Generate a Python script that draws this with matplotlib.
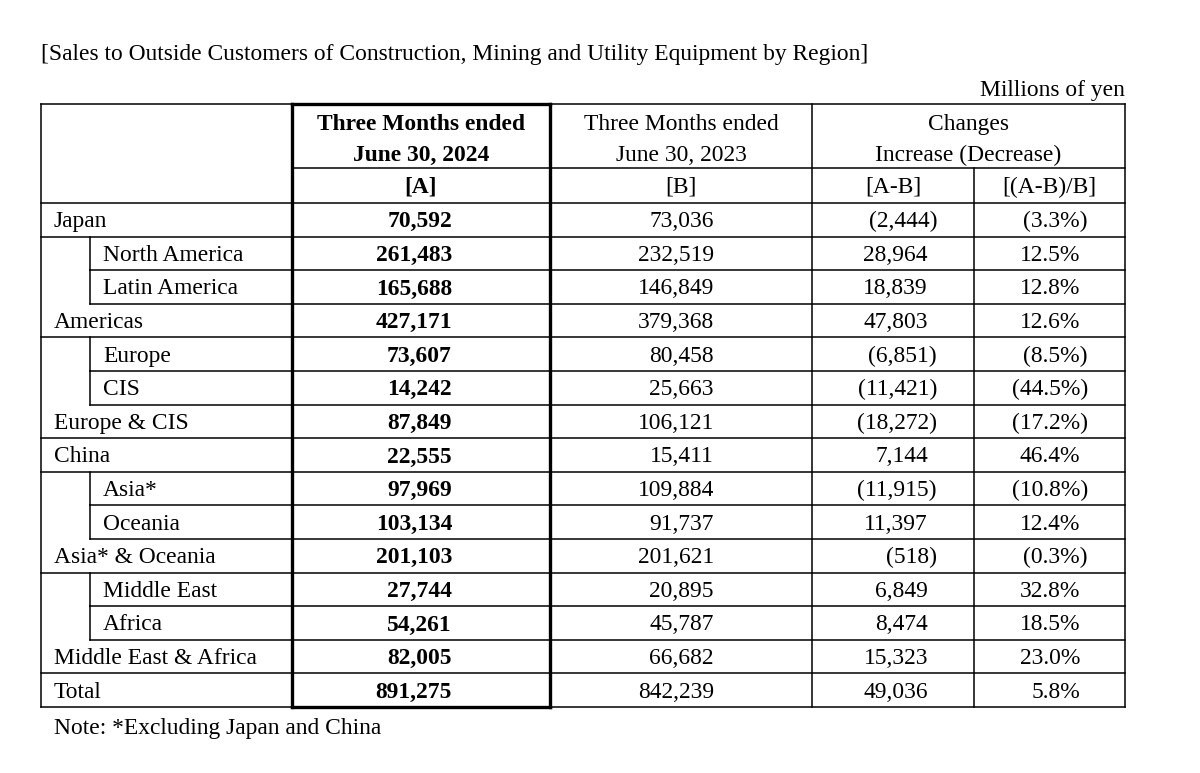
import matplotlib
matplotlib.use("Agg")
import matplotlib.pyplot as plt

regions = ["Japan", "North America", "Latin America", "Americas", "Europe", "CIS",
           "Europe & CIS", "China", "Asia*", "Oceania", "Asia* & Oceania",
           "Middle East", "Africa", "Middle East & Africa", "Total"]
is_sub = [False, True, True, False, True, True, False, False, True, True, False,
          True, True, False, False]
sales_2024 = [70592, 261483, 165688, 427171, 73607, 14242, 87849, 22555, 97969,
              103134, 201103, 27744, 54261, 82005, 891275]
sales_2023 = [73036, 232519, 146849, 379368, 80458, 25663, 106121, 15411, 109884,
              91737, 201621, 20895, 45787, 66682, 842239]
change_amt = [-2444, 28964, 18839, 47803, -6851, -11421, -18272, 7144, -11915,
              11397, -518, 6849, 8474, 15323, 49036]
change_pct = [-3.3, 12.5, 12.8, 12.6, -8.5, -44.5, -17.2, 46.4, -10.8, 12.4, -0.3,
              32.8, 18.5, 23.0, 5.8]

title = "[Sales to Outside Customers of Construction, Mining and Utility Equipment by Region]"
unit = "Millions of yen"
note = "Note: *Excluding Japan and China"

# ---- layout (pixel coords) ----
W, H = 1200, 773
FS = 16.9
FONT = "Liberation Serif"
LW = 1.1
LW_THICK = 2.4

x_left, x_a, x_b, x_c, x_d, x_right = 41, 292, 550, 812, 974, 1125
x_indent = 90
y_top, y_h1, y_h2 = 104, 168, 203
row_h = 33.6
y_bottom = y_h2 + row_h * len(regions)

fig = plt.figure(figsize=(W / 100, H / 100), dpi=100)
ax = fig.add_axes([0, 0, 1, 1])
ax.set_xlim(0, W)
ax.set_ylim(H, 0)
ax.axis("off")


def txt(x, y, s, ha="center", bold=False):
    ax.text(x, y, s, ha=ha, va="baseline", fontsize=FS, family=FONT,
            fontweight="bold" if bold else "normal", color="black")


def fmt_num(v):
    return f"({abs(v):,})" if v < 0 else f"{v:,}"


def fmt_pct(v):
    return f"({abs(v):.1f}%)" if v < 0 else f"{v:.1f}%"


def hline(y, x0, x1, lw=LW):
    ax.plot([x0, x1], [y, y], color="black", lw=lw, solid_capstyle="projecting")


def vline(x, y0, y1, lw=LW):
    ax.plot([x, x], [y0, y1], color="black", lw=lw, solid_capstyle="projecting")


# outer frame
hline(y_top, x_left, x_right)
hline(y_bottom, x_left, x_right)
vline(x_left, y_top, y_bottom)
vline(x_right, y_top, y_bottom)
vline(x_c, y_top, y_bottom)
vline(x_d, y_h1, y_bottom)

# header lines
hline(y_h1, x_a, x_right)
hline(y_h2, x_left, x_right)

# row lines
n = len(regions)
for i in range(n - 1):
    yb = y_h2 + row_h * (i + 1)
    start = x_indent if is_sub[i] else x_left
    hline(yb, start, x_right)
for i in range(n):
    if is_sub[i]:
        vline(x_indent, y_h2 + row_h * i, y_h2 + row_h * (i + 1))

# thick box around current period column
vline(x_a, y_top, y_bottom, LW_THICK)
vline(x_b, y_top, y_bottom, LW_THICK)
hline(y_top, x_a, x_b, LW_THICK)
hline(y_bottom, x_a, x_b, LW_THICK)

# header text
txt(x_left, 60, title, ha="left")
txt(x_right, 96, unit, ha="right")
cA = (x_a + x_b) / 2
cB = (x_b + x_c) / 2
cC = (x_c + x_d) / 2
cD = (x_d + x_right) / 2
txt(cA, 130, "Three Months ended", bold=True)
txt(cA, 161, "June 30, 2024", bold=True)
txt(cA, 193, "[A]", bold=True)
txt(cB, 130, "Three Months ended")
txt(cB, 161, "June 30, 2023")
txt(cB, 193, "[B]")
txt((x_c + x_right) / 2, 130, "Changes")
txt((x_c + x_right) / 2, 161, "Increase (Decrease)")
txt(cC, 193, "[A-B]")
txt(cD, 193, "[(A-B)/B]")

# body
for i in range(n):
    yc = y_h2 + row_h * (i + 0.5) + 7.5
    txt(103 if is_sub[i] else 54, yc, regions[i], ha="left")
    txt(452, yc, fmt_num(sales_2024[i]), ha="right", bold=True)
    txt(714, yc, fmt_num(sales_2023[i]), ha="right")
    txt(937 if change_amt[i] < 0 else 928, yc, fmt_num(change_amt[i]), ha="right")
    txt(1088 if change_pct[i] < 0 else 1080, yc, fmt_pct(change_pct[i]), ha="right")

txt(54, 734, note, ha="left")

fig.savefig("out.png", dpi=100)
